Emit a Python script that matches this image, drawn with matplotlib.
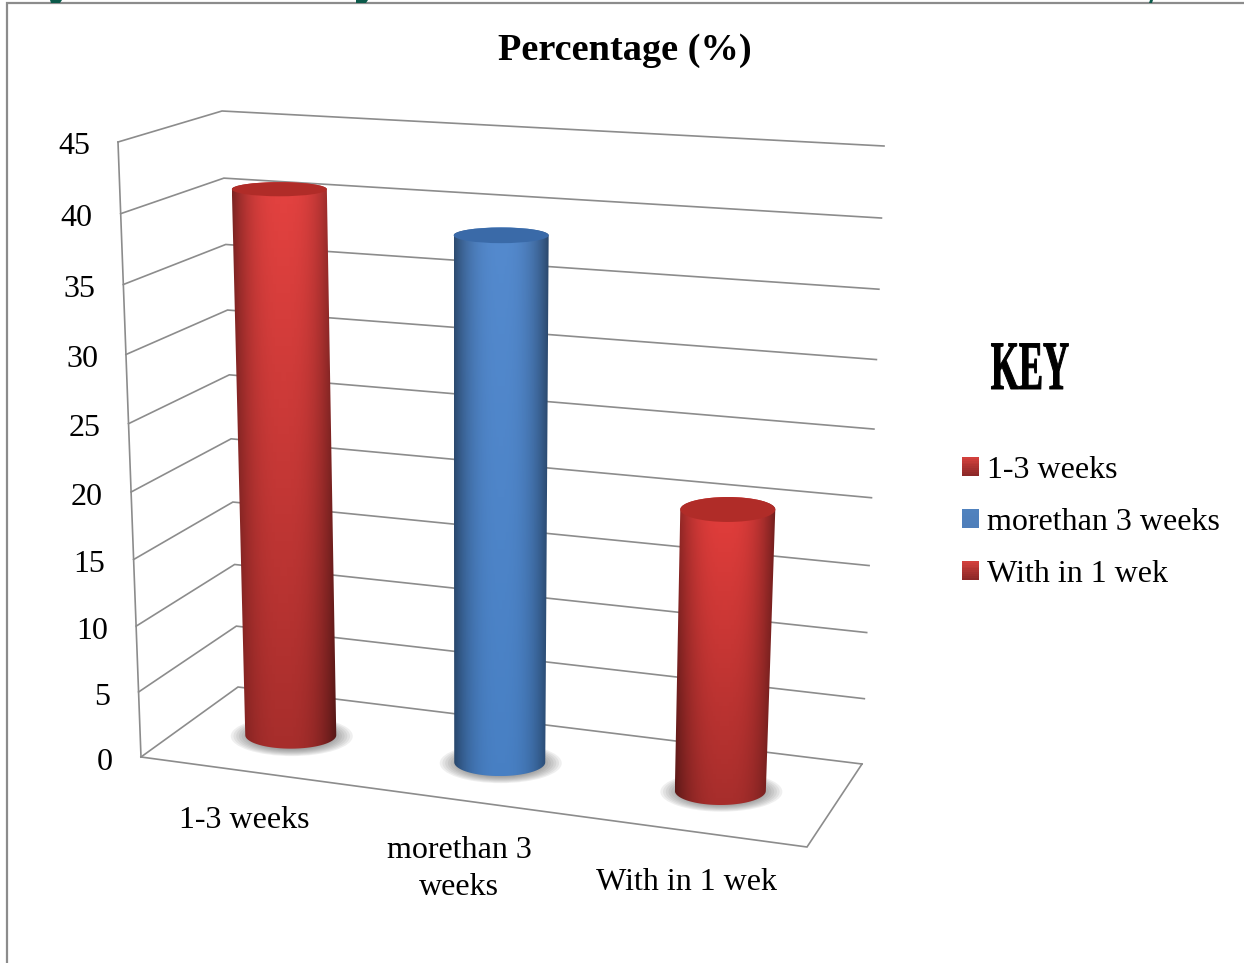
import numpy as np
import matplotlib
matplotlib.use("Agg")
import matplotlib.pyplot as plt
from matplotlib.patches import Ellipse, Polygon, Patch, Rectangle
from matplotlib.legend_handler import HandlerBase
from matplotlib.patheffects import AbstractPathEffect
from matplotlib.transforms import Affine2D

# ---- data ----
categories = ["1-3 weeks", "morethan 3 weeks", "With in 1 wek"]
category_labels = ["1-3 weeks", "morethan 3\nweeks", "With in 1 wek"]
values = [41, 38.8, 20.7]
y_ticks = [0, 5, 10, 15, 20, 25, 30, 35, 40, 45]
title = "Percentage (%)"
key_title = "KEY"

# ---- style / layout ----
FONT = "Liberation Serif"
FS = 23
VMAX = 45
GRID = "#8c8c8c"
# box corners in pixels: (u, depth) -> floor point, top point
C = {
    (0, 0): ((238, 687), (222, 111)),
    (1, 0): ((862, 764), (884, 146)),
    (0, 1): ((141, 757), (118, 142)),
    (1, 1): ((807, 847), (834, 190)),
}
slots = [0.157, 0.481, 0.823]
label_xy = [(244, 821), (459, 869), (687, 883)]
bar_style = [
    dict(top=(228, 66, 64), bot=(168, 46, 44), cap=(176, 44, 40)),
    dict(top=(84, 138, 206), bot=(72, 128, 196), cap=(58, 106, 168)),
    dict(top=(228, 62, 60), bot=(168, 46, 44), cap=(176, 44, 40)),
]


def proj(u, d, v):
    t = v / VMAX
    t = t - 0.055 * t * (1 - t)  # slight perspective along the height
    out = np.zeros(2)
    for (cu, cd), (lo, hi) in C.items():
        w = (u if cu else 1 - u) * (d if cd else 1 - d)
        out += w * ((1 - t) * np.array(lo, float) + t * np.array(hi, float))
    return out


def semi_base(y):
    return 3.6 + 0.0135 * y


def semi_top(y):
    return 3.9 + 0.0168 * y


fig = plt.figure(figsize=(12.44, 9.63), dpi=100)
ax = fig.add_axes([0, 0, 1, 1])
ax.set_axis_off()

# outer frame and clipped fragments of the heading above the chart
ax.plot([7, 7, 1244], [963, 3.5, 3.5], color="#8c8c8c", lw=1.6, solid_joinstyle="miter", zorder=1)
for pts in ([(50, 0), (62, 0), (60, 3), (51, 3)],
            [(356, 0), (368, 0), (366, 3), (356, 3)],
            [(1150, 0), (1153, 0), (1152, 3), (1149, 3)]):
    ax.add_patch(Polygon(pts, closed=True, color="#0b5a4a", lw=0, zorder=1))

# walls and floor
for v in y_ticks:
    pts = np.array([proj(0, 1, v), proj(0, 0, v), proj(1, 0, v)])
    ax.plot(pts[:, 0], pts[:, 1], color=GRID, lw=1.2, zorder=2, solid_joinstyle="miter")
    fx, fy = proj(0, 1, v)
    ax.text(fx - 28, fy + 5, str(v), ha="right", va="center", family=FONT,
            fontsize=FS, color="black", zorder=5)
edge = np.array([proj(0, 1, 0), proj(0, 1, VMAX)])
ax.plot(edge[:, 0], edge[:, 1], color=GRID, lw=1.2, zorder=2)
outline = np.array([proj(0, 1, 0), proj(1, 1, 0), proj(1, 0, 0)])
ax.plot(outline[:, 0], outline[:, 1], color=GRID, lw=1.2, zorder=2, solid_joinstyle="miter")


def cylinder_image(top, bot, n=120, m=64):
    xs = np.linspace(-1, 1, n)
    ys = np.linspace(0, 1, m)[:, None, None]
    profile = 1 - 0.5 * np.clip(np.abs(xs + 0.02) / 1.02, 0, 1) ** 2.6
    profile = profile[None, :, None]
    col = (1 - ys) * np.array(top, float)[None, None, :] + ys * np.array(bot, float)[None, None, :]
    return np.clip(col * profile, 0, 255).astype(np.uint8)


# cylinders
for slot, val, st in zip(slots, values, bar_style):
    base = proj(slot, 0.5, 0)
    head = proj(slot, 0.5, val)
    hw_b, hw_t = 45.5, 47.5
    sb, st_h = semi_base(base[1]), semi_top(head[1])
    # soft floor shadow
    for k in np.linspace(1.0, 0.6, 10):
        ax.add_patch(Ellipse((base[0] + 1, base[1] + 1), 122 * k, 40 * k,
                             color="#555555", alpha=0.09, lw=0, zorder=3))
    th = np.linspace(0, np.pi, 50)
    lower = np.c_[base[0] + hw_b * np.cos(th), base[1] + sb * np.sin(th)]
    upper = np.c_[head[0] - hw_t * np.cos(th), head[1] - st_h * np.sin(th)]
    body = np.vstack([lower, upper])
    x0, x1 = body[:, 0].min(), body[:, 0].max()
    y0, y1 = body[:, 1].min(), body[:, 1].max()
    im = ax.imshow(cylinder_image(st["top"], st["bot"]), extent=(x0, x1, y1, y0),
                   aspect="auto", interpolation="bilinear", zorder=4)
    im.set_clip_path(Polygon(body, closed=True, transform=ax.transData))
    ax.add_patch(Ellipse(head, 2 * hw_t, 2 * st_h, color=np.array(st["cap"]) / 255, lw=0, zorder=4.5))

# axis texts
for (x, y), lab in zip(label_xy, category_labels):
    ax.text(x, y, lab, ha="center", va="center", family=FONT, fontsize=FS,
            linespacing=1.4, color="black", zorder=5)
ax.text(625, 51, title, ha="center", va="center", family=FONT, fontsize=27.6,
        fontweight="bold", color="black", zorder=5)


class Squeeze(AbstractPathEffect):
    """Draws the text narrower and heavier, like a condensed black face."""
    def __init__(self, cx, sx, lw):
        super().__init__()
        self.cx, self.sx, self.lw = cx, sx, lw

    def draw_path(self, renderer, gc, tpath, affine, rgbFace=None):
        a = affine + Affine2D().translate(-self.cx, 0).scale(self.sx, 1).translate(self.cx, 0)
        g = renderer.new_gc()
        g.copy_properties(gc)
        g.set_foreground("black")
        g.set_linewidth(self.lw)
        renderer.draw_path(g, tpath, a, rgbFace)
        g.restore()


ax.set_xlim(0, 1244)
ax.set_ylim(963, 0)
key_cx = ax.transData.transform((1030, 0))[0]
ax.text(1030, 372, key_title, ha="center", va="center", family=FONT, fontsize=50,
        fontweight="bold", color="black", zorder=5,
        path_effects=[Squeeze(key_cx, 0.52, 0.7)])


class GradientSquare(HandlerBase):
    def __init__(self, top, bot):
        super().__init__()
        self.top, self.bot = np.array(top) / 255, np.array(bot) / 255

    def create_artists(self, legend, orig, xd, yd, w, h, fs, trans):
        n = 10
        out = []
        for i in range(n):
            f = i / (n - 1)
            c = (1 - f) * self.top + f * self.bot
            out.append(Rectangle((-xd, -yd + h * (1 - (i + 1) / n)), w, h / n + 0.3,
                                 facecolor=c, edgecolor="none", transform=trans))
        return out


handles = [Patch(label=c) for c in categories]
hmap = {
    handles[0]: GradientSquare((210, 64, 60), (140, 40, 40)),
    handles[1]: GradientSquare((80, 130, 190), (78, 126, 186)),
    handles[2]: GradientSquare((210, 64, 60), (140, 40, 40)),
}
leg = ax.legend(handles=handles, handler_map=hmap, loc="upper left",
                bbox_to_anchor=(962, 456), bbox_transform=ax.transData,
                frameon=False, borderpad=0, borderaxespad=0,
                prop=dict(family=FONT, size=FS), handlelength=0.53, handleheight=0.53,
                handletextpad=0.25, labelspacing=0.72)
leg.set_zorder(6)

fig.savefig("out.png", dpi=100, facecolor="white")
